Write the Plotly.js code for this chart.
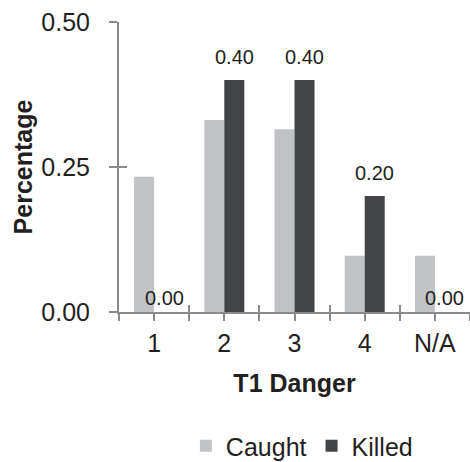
<!DOCTYPE html>
<html>
<head>
<meta charset="utf-8">
<script src="https://cdn.plot.ly/plotly-3.0.1.min.js"></script>
<style>html,body{margin:0;padding:0;background:#fff;}#chart{width:470px;height:462px;}</style>
</head>
<body>
<div id="chart"></div>
<script>
var categories = ['1', '2', '3', '4', 'N/A'];
var caught = [0.233, 0.331, 0.315, 0.097, 0.097];
var killed = [0.00, 0.40, 0.40, 0.20, 0.00];
var yTicks = [0, 0.25, 0.5];
var boundaryTicks = [-0.5, 0.5, 1.5, 2.5, 3.5, 4.5];

var FONT = 'Liberation Sans, Arial, sans-serif';
var TXT = '#231f20';
var AX = '#8a8a8a';

var traces = [
  {type: 'bar', name: 'Caught', x: categories, y: caught,
   marker: {color: '#c1c2c5'}, hoverinfo: 'none'},
  {type: 'bar', name: 'Killed', x: categories, y: killed,
   marker: {color: '#434447'}, hoverinfo: 'none'},
  // empty helper traces so the overlay tick axes get drawn
  {type: 'scatter', x: [], y: [], xaxis: 'x2', yaxis: 'y', showlegend: false, hoverinfo: 'none'},
  {type: 'scatter', x: [], y: [], xaxis: 'x3', yaxis: 'y', showlegend: false, hoverinfo: 'none'},
  {type: 'scatter', x: [], y: [], xaxis: 'x', yaxis: 'y2', showlegend: false, hoverinfo: 'none'}
];

// value labels above the Killed bars (x given as category index)
var annotations = categories.map(function (c, i) {
  return {
    x: i, y: killed[i], xref: 'x', yref: 'y',
    text: killed[i].toFixed(2), showarrow: false,
    xanchor: 'center', yanchor: 'bottom',
    xshift: 10, yshift: killed[i] > 0 ? 10 : 1,
    font: {family: FONT, size: 20, color: TXT}
  };
});

var layout = {
  width: 470, height: 462,
  margin: {l: 119, r: 0, t: 22, b: 150},
  paper_bgcolor: '#fff', plot_bgcolor: '#fff',
  font: {family: FONT, color: TXT},
  barmode: 'group', bargap: 0.43, bargroupgap: 0,
  showlegend: true,
  annotations: annotations,
  legend: {orientation: 'h', xref: 'paper', x: 0.521, xanchor: 'center',
           yref: 'container', y: 0.0346, yanchor: 'middle',
           font: {family: FONT, size: 25, color: TXT}, traceorder: 'normal'},
  xaxis: {
    type: 'category', categoryorder: 'array', categoryarray: categories,
    range: [-0.5, 4.5], showline: true, linecolor: AX, linewidth: 2,
    ticks: 'outside', ticklen: 7, tickwidth: 2, tickcolor: AX,
    tickfont: {family: FONT, size: 25, color: TXT}, ticklabelstandoff: 1,
    showgrid: false, zeroline: false, fixedrange: true,
    title: {text: '<b>T1 Danger</b>', font: {family: FONT, size: 25, color: TXT}, standoff: 18}
  },
  xaxis2: {
    overlaying: 'x', anchor: 'y', range: [-0.5, 4.5],
    tickvals: boundaryTicks, showticklabels: false,
    ticks: 'outside', ticklen: 8, tickwidth: 2, tickcolor: AX,
    showline: false, showgrid: false, zeroline: false, fixedrange: true
  },
  xaxis3: {
    overlaying: 'x', anchor: 'y', range: [-0.5, 4.5],
    tickvals: boundaryTicks, showticklabels: false,
    ticks: 'inside', ticklen: 7, tickwidth: 2, tickcolor: AX,
    showline: false, showgrid: false, zeroline: false, fixedrange: true
  },
  yaxis: {
    range: [0, 0.5], tickvals: yTicks, tickformat: '.2f',
    showline: true, linecolor: AX, linewidth: 2,
    ticks: 'outside', ticklen: 8, tickwidth: 2, tickcolor: AX,
    tickfont: {family: FONT, size: 25, color: TXT}, ticklabelstandoff: 14,
    showgrid: false, zeroline: false, fixedrange: true,
    title: {text: '<b>Percentage</b>', font: {family: FONT, size: 25, color: TXT}, standoff: 2}
  },
  yaxis2: {
    overlaying: 'y', anchor: 'x', range: [0, 0.5], tickvals: yTicks,
    showticklabels: false, ticks: 'inside', ticklen: 8, tickwidth: 2, tickcolor: AX,
    showline: false, showgrid: false, zeroline: false, fixedrange: true
  }
};

Plotly.newPlot('chart', traces, layout, {displayModeBar: false, staticPlot: true});
</script>
</body>
</html>
